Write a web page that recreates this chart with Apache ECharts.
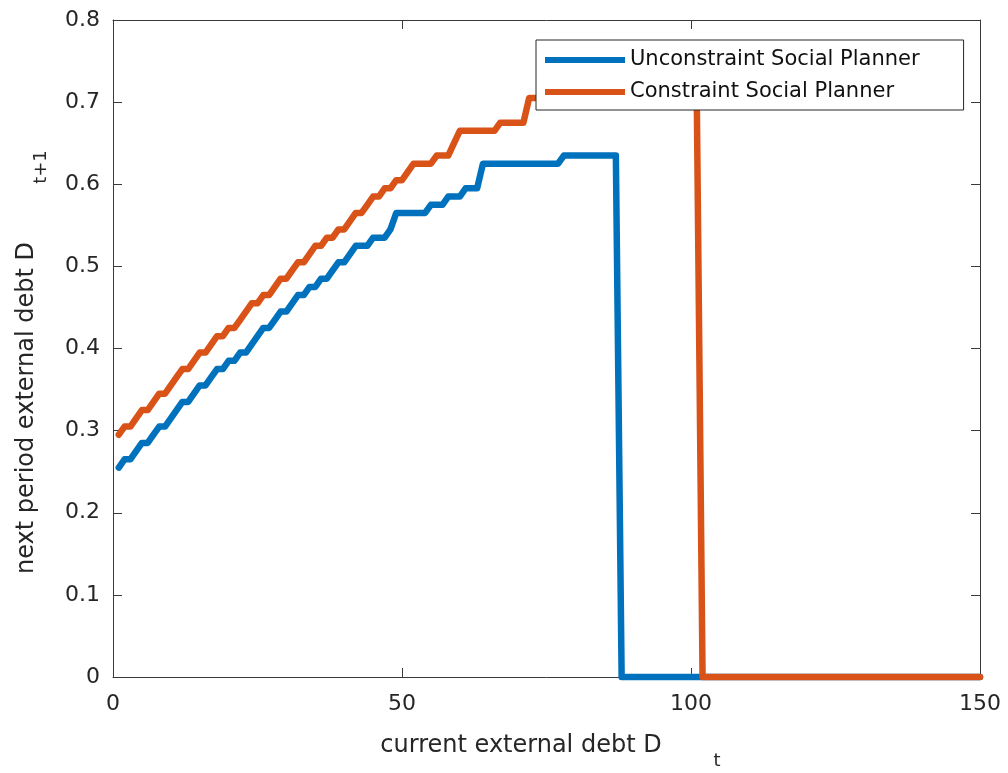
<!DOCTYPE html>
<html>
<head>
<meta charset="utf-8">
<title>Debt policy functions</title>
<script src="https://cdn.jsdelivr.net/npm/echarts@6/dist/echarts.min.js"></script>
<style>
  html, body { margin: 0; padding: 0; background: #ffffff; }
  #chart { width: 1008px; height: 773px; }
</style>
</head>
<body>
<div id="chart"></div>
<script>
// Current debt grid points D_t (1 .. 150)
const debtGrid = [
  1, 2, 3, 4, 5, 6, 7, 8, 9, 10, 11, 12, 13, 14, 15, 16, 17, 18, 19, 20,
  21, 22, 23, 24, 25, 26, 27, 28, 29, 30, 31, 32, 33, 34, 35, 36, 37, 38, 39, 40,
  41, 42, 43, 44, 45, 46, 47, 48, 49, 50, 51, 52, 53, 54, 55, 56, 57, 58, 59, 60,
  61, 62, 63, 64, 65, 66, 67, 68, 69, 70, 71, 72, 73, 74, 75, 76, 77, 78, 79, 80,
  81, 82, 83, 84, 85, 86, 87, 88, 89, 90, 91, 92, 93, 94, 95, 96, 97, 98, 99, 100,
  101, 102, 103, 104, 105, 106, 107, 108, 109, 110, 111, 112, 113, 114, 115, 116, 117, 118, 119, 120,
  121, 122, 123, 124, 125, 126, 127, 128, 129, 130, 131, 132, 133, 134, 135, 136, 137, 138, 139, 140,
  141, 142, 143, 144, 145, 146, 147, 148, 149, 150
];

// Next-period debt D_{t+1}, unconstrained planner
const unconstrained = [
  0.255, 0.265, 0.265, 0.275, 0.285, 0.285, 0.295, 0.305, 0.305, 0.315,
  0.325, 0.335, 0.335, 0.345, 0.355, 0.355, 0.365, 0.375, 0.375, 0.385,
  0.385, 0.395, 0.395, 0.405, 0.415, 0.425, 0.425, 0.435, 0.445, 0.445,
  0.455, 0.465, 0.465, 0.475, 0.475, 0.485, 0.485, 0.495, 0.505, 0.505,
  0.515, 0.525, 0.525, 0.525, 0.535, 0.535, 0.535, 0.545, 0.565, 0.565,
  0.565, 0.565, 0.565, 0.565, 0.575, 0.575, 0.575, 0.585, 0.585, 0.585,
  0.595, 0.595, 0.595, 0.625, 0.625, 0.625, 0.625, 0.625, 0.625, 0.625,
  0.625, 0.625, 0.625, 0.625, 0.625, 0.625, 0.625, 0.635, 0.635, 0.635,
  0.635, 0.635, 0.635, 0.635, 0.635, 0.635, 0.635, 0, 0, 0,
  0, 0, 0, 0, 0, 0, 0, 0, 0, 0,
  0, 0, 0, 0, 0, 0, 0, 0, 0, 0,
  0, 0, 0, 0, 0, 0, 0, 0, 0, 0,
  0, 0, 0, 0, 0, 0, 0, 0, 0, 0,
  0, 0, 0, 0, 0, 0, 0, 0, 0, 0,
  0, 0, 0, 0, 0, 0, 0, 0, 0, 0
];

// Next-period debt D_{t+1}, constrained planner
const constrained = [
  0.295, 0.305, 0.305, 0.315, 0.325, 0.325, 0.335, 0.345, 0.345, 0.355,
  0.365, 0.375, 0.375, 0.385, 0.395, 0.395, 0.405, 0.415, 0.415, 0.425,
  0.425, 0.435, 0.445, 0.455, 0.455, 0.465, 0.465, 0.475, 0.485, 0.485,
  0.495, 0.505, 0.505, 0.515, 0.525, 0.525, 0.535, 0.535, 0.545, 0.545,
  0.555, 0.565, 0.565, 0.575, 0.585, 0.585, 0.595, 0.595, 0.605, 0.605,
  0.615, 0.625, 0.625, 0.625, 0.625, 0.635, 0.635, 0.635, 0.650, 0.665,
  0.665, 0.665, 0.665, 0.665, 0.665, 0.665, 0.675, 0.675, 0.675, 0.675,
  0.675, 0.705, 0.705, 0.705, 0.705, 0.705, 0.705, 0.705, 0.705, 0.705,
  0.705, 0.705, 0.705, 0.705, 0.705, 0.705, 0.705, 0.705, 0.705, 0.705,
  0.705, 0.705, 0.705, 0.705, 0.705, 0.705, 0.705, 0.705, 0.705, 0.705,
  0.705, 0, 0, 0, 0, 0, 0, 0, 0, 0,
  0, 0, 0, 0, 0, 0, 0, 0, 0, 0,
  0, 0, 0, 0, 0, 0, 0, 0, 0, 0,
  0, 0, 0, 0, 0, 0, 0, 0, 0, 0,
  0, 0, 0, 0, 0, 0, 0, 0, 0, 0
];

const seriesNames = ['Unconstraint Social Planner', 'Constraint Social Planner'];
const seriesColors = ['#0072BD', '#D95319'];
const xTicks = [0, 50, 100, 150];
const yTicks = [0, 0.1, 0.2, 0.3, 0.4, 0.5, 0.6, 0.7, 0.8];

const FONT = 'DejaVu Sans';
const AXIS_COLOR = '#3a3a3a';
const TEXT_COLOR = '#262626';
const TICK_FONT_SIZE = 22;

function pairs(ys) {
  return debtGrid.map((x, i) => [x, ys[i]]);
}

function valueAxis(extra) {
  return Object.assign({
    type: 'value',
    splitLine: { show: false },
    axisLine: { show: true, onZero: false, lineStyle: { color: AXIS_COLOR, width: 1 } },
    axisTick: { show: true, inside: true, length: 9, lineStyle: { color: AXIS_COLOR, width: 1 } },
    axisLabel: { show: true, color: TEXT_COLOR, fontFamily: FONT, fontSize: TICK_FONT_SIZE }
  }, extra);
}

const chart = echarts.init(document.getElementById('chart'), null, { renderer: 'canvas' });

chart.setOption({
  backgroundColor: '#ffffff',
  animation: false,
  grid: { left: 113, right: 28, top: 20, bottom: 96, containLabel: false },
  xAxis: [
    valueAxis({
      position: 'bottom', min: xTicks[0], max: xTicks[xTicks.length - 1], interval: 50,
      axisLabel: { color: TEXT_COLOR, fontFamily: FONT, fontSize: TICK_FONT_SIZE, margin: 16 }
    }),
    valueAxis({
      position: 'top', min: xTicks[0], max: xTicks[xTicks.length - 1], interval: 50,
      axisLabel: { show: false }
    })
  ],
  yAxis: [
    valueAxis({
      position: 'left', min: yTicks[0], max: yTicks[yTicks.length - 1], interval: 0.1,
      axisLabel: { color: TEXT_COLOR, fontFamily: FONT, fontSize: TICK_FONT_SIZE, margin: 13,
        formatter: v => String(Math.round(v * 10) / 10) }
    }),
    valueAxis({
      position: 'right', min: yTicks[0], max: yTicks[yTicks.length - 1], interval: 0.1,
      axisLabel: { show: false }
    })
  ],
  legend: {
    show: true,
    orient: 'vertical',
    left: 536,
    top: 40,
    data: seriesNames,
    icon: 'rect',
    itemWidth: 80,
    itemHeight: 6,
    itemGap: 8,
    itemTextGap: 6,
    padding: [8, 44, 6, 9],
    backgroundColor: '#ffffff',
    borderColor: '#262626',
    borderWidth: 1,
    borderRadius: 0,
    selectedMode: false,
    textStyle: { color: '#111111', fontFamily: FONT, fontSize: 21, lineHeight: 24 }
  },
  series: seriesNames.map((name, k) => ({
    name: name,
    type: 'line',
    xAxisIndex: 0,
    yAxisIndex: 0,
    data: pairs(k === 0 ? unconstrained : constrained),
    showSymbol: false,
    symbol: 'none',
    clip: false,
    color: seriesColors[k],
    lineStyle: { width: 6.5, color: seriesColors[k], join: 'round', cap: 'round' },
    z: 2 + k
  })),
  graphic: [
    {
      type: 'text', x: 521, y: 746,
      style: { text: 'current external debt D', fill: TEXT_COLOR, font: '24px "DejaVu Sans"',
        textAlign: 'center', textVerticalAlign: 'middle' }
    },
    {
      type: 'text', x: 717, y: 761,
      style: { text: 't', fill: TEXT_COLOR, font: '18px "DejaVu Sans"',
        textAlign: 'center', textVerticalAlign: 'middle' }
    },
    {
      type: 'text', x: 27, y: 408, rotation: Math.PI / 2,
      style: { text: 'next period external debt D', fill: TEXT_COLOR, font: '24px "DejaVu Sans"',
        textAlign: 'center', textVerticalAlign: 'middle' }
    },
    {
      type: 'text', x: 41, y: 167, rotation: Math.PI / 2,
      style: { text: 't+1', fill: TEXT_COLOR, font: '18px "DejaVu Sans"',
        textAlign: 'center', textVerticalAlign: 'middle' }
    }
  ]
});
</script>
</body>
</html>
